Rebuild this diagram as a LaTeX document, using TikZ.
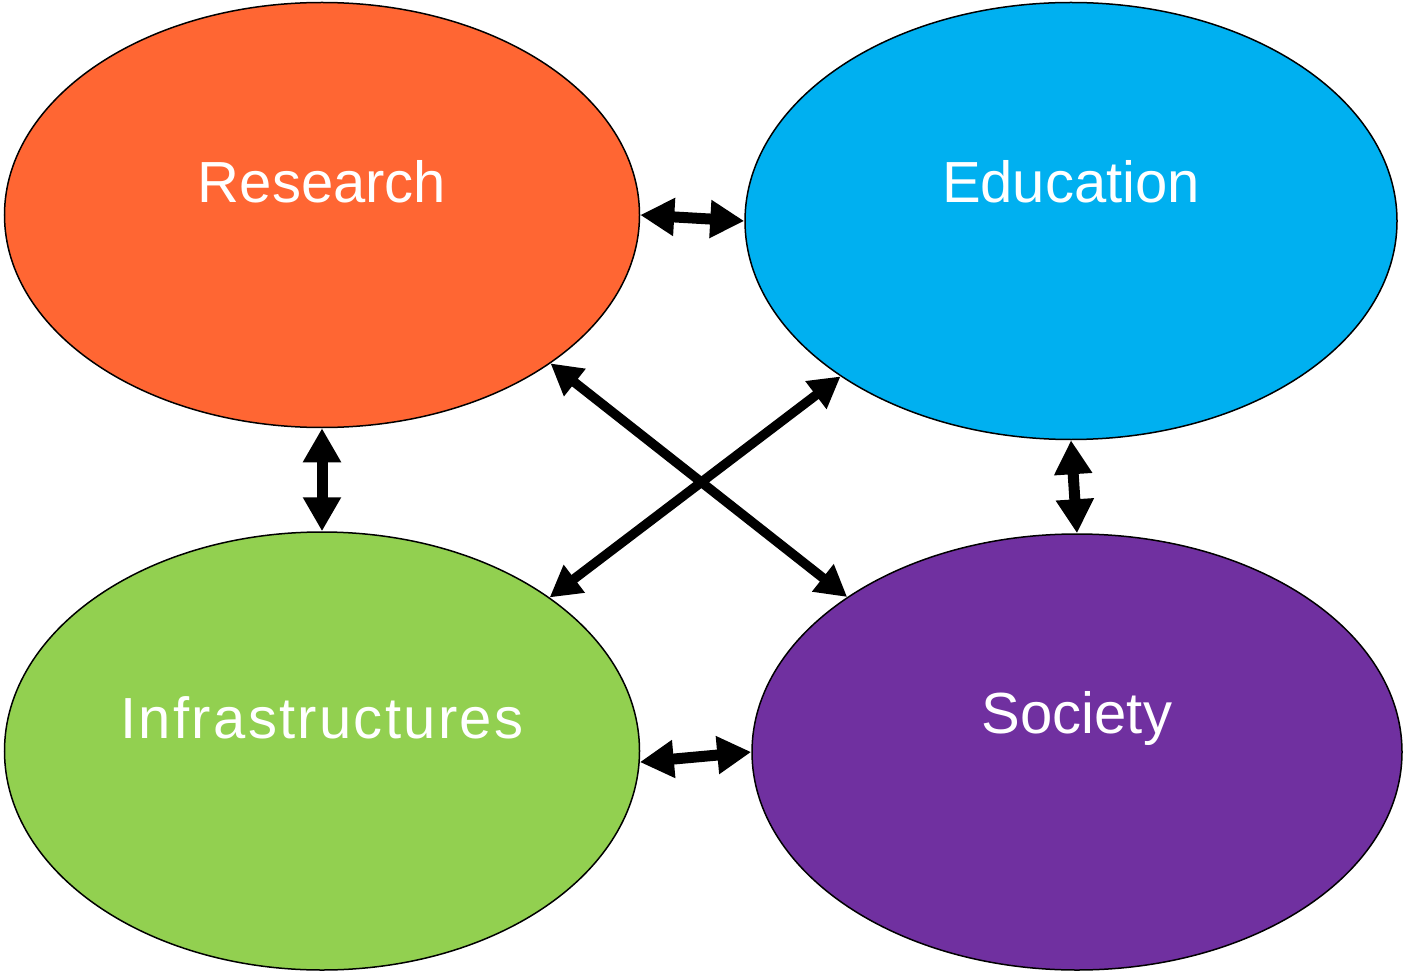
\documentclass[tikz,border=0pt]{standalone}
\usepackage{fontspec}
\setmainfont{Liberation Sans}
\usetikzlibrary{shapes}
\usetikzlibrary{arrows.meta}
\usetikzlibrary{positioning}

\definecolor{resorange}{HTML}{FF6633}
\definecolor{edublue}{HTML}{00B0F0}
\definecolor{infgreen}{HTML}{92D050}
\definecolor{socpurple}{HTML}{7030A0}

\tikzset{
  blob/.style={ellipse,draw=black,line width=1.5pt,inner sep=0pt},
  lbl/.style={text=white,anchor=base,font=\fontsize{58}{62}\selectfont},
  link/.style={line width=11pt,{Triangle[length=34pt,width=36pt]}-{Triangle[length=34pt,width=36pt]}},
  cross/.style={line width=9.5pt,{Triangle[length=31pt,width=33pt]}-{Triangle[length=31pt,width=33pt]}}
}

\begin{document}
\begin{tikzpicture}[x=1pt,y=-1pt]
				    \useasboundingbox (0,0) rectangle (1404,973);

				    % Place nodes
				    \node [blob,fill=resorange,minimum width=635pt,minimum height=425pt] (res) at (322,215) {};
				    \node [blob,fill=edublue,minimum width=652pt,minimum height=437pt] (edu) at (1071,221) {};
				    \node [blob,fill=infgreen,minimum width=635pt,minimum height=438pt] (inf) at (322,751) {};
				    \node [blob,fill=socpurple,minimum width=650pt,minimum height=436pt] (soc) at (1077,752) {};

				    \node [lbl] (resl) at (322,203) {Research};
				    \node [lbl] (edul) at (1071,203) {Education};
				    \node [lbl] (infl) at (322,738) {\addfontfeature{LetterSpace=4}Infrastructures};
				    \node [lbl] (socl) at (1077,733) {Society};

				    % Links
				    \draw [link] (res.east) -- (edu.west);
				    \draw [link] (res.south) -- (inf.north);
				    \draw [link] (edu.south) -- (soc.north);
				    \draw [link] (inf.-2) -- (soc.west);
				    \draw [cross] (res.-33.7) -- (soc.146.3);
				    \draw [cross] (inf.34.4) -- (edu.-146);
				\end{tikzpicture}
\end{document}
